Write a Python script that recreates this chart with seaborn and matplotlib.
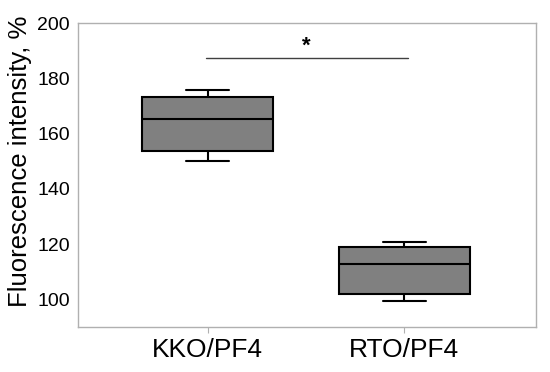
import matplotlib
matplotlib.use("Agg")
import matplotlib.pyplot as plt
import seaborn as sns
import pandas as pd

categories = ["KKO/PF4", "RTO/PF4"]
# five-number summaries: min, q1, median, q3, max
kko_values = [150.0, 153.6, 165.2, 173.3, 175.7]
rto_values = [99.3, 102.1, 112.9, 119.0, 120.7]
sig_y = 187.4
sig_label = "*"
y_ticks = [100, 120, 140, 160, 180, 200]

sns.set_theme(style="white")
plt.rcParams["font.family"] = ["Liberation Sans", "DejaVu Sans"]

df = pd.DataFrame({
    "group": [categories[0]] * len(kko_values) + [categories[1]] * len(rto_values),
    "value": kko_values + rto_values,
})

fig, ax = plt.subplots(figsize=(5.5, 3.72), dpi=100)
fig.subplots_adjust(left=0.142, right=0.974, top=0.938, bottom=0.121)

sns.boxplot(data=df, x="group", y="value", order=categories, ax=ax,
            color="#808080", saturation=1, width=0.667, capwidths=0.22,
            linewidth=1.5, linecolor="black", whis=3)

ax.set_xlim(-0.66, 1.67)
ax.set_ylim(90, 200)
ax.set_yticks(y_ticks)
ax.set_xlabel("")
ax.set_ylabel("Fluorescence intensity, %", fontsize=18.5, color="black")
ax.yaxis.set_label_coords(-0.101, 0.546)
ax.tick_params(axis="y", labelsize=14, length=0, pad=6, colors="black")
ax.tick_params(axis="x", labelsize=19, length=4, width=0.8, color="#b0b0b0",
               pad=4, bottom=True, labelcolor="black")
for s in ax.spines.values():
    s.set_color("#b0b0b0")
    s.set_linewidth(1.0)

ax.plot([-0.01, 1.02], [sig_y, sig_y], color="#404040", lw=1.0)
ax.text(0.5, sig_y + 0.6, sig_label, ha="center", va="bottom",
        fontsize=16, fontweight="bold", color="black")

fig.savefig("out.png", dpi=100)
